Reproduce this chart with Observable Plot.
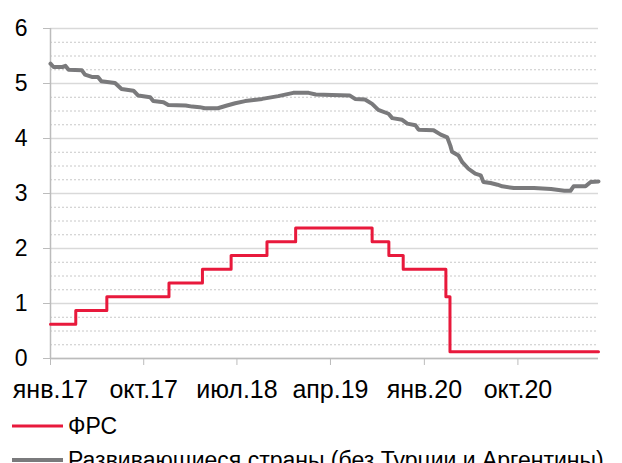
<!DOCTYPE html>
<html>
<head>
<meta charset="utf-8">
<script src="https://cdn.jsdelivr.net/npm/d3@7"></script>
<script src="https://cdn.jsdelivr.net/npm/@observablehq/plot@0.6"></script>
<style>
  body { margin: 0; background: #fff; font-family: "Liberation Sans", Arial, sans-serif; }
  #chart svg { display: block; }
  #legend { margin-top: 3px; font-size: 23px; color: #000; }
  .row { height: 34px; display: flex; align-items: center; white-space: nowrap; }
  .row svg { margin-left: 12px; margin-right: 5px; }
</style>
</head>
<body>
<div id="chart"></div>
<div id="legend"></div>
<script>
const fedDates = ["2017-01-01","2017-03-16","2017-06-15","2017-12-14","2018-03-22","2018-06-14","2018-09-27","2018-12-20","2019-08-01","2019-09-19","2019-10-31","2020-03-04","2020-03-16","2021-05-25"];
const fedValues = [0.625,0.875,1.125,1.375,1.625,1.875,2.125,2.375,2.125,1.875,1.625,1.125,0.125,0.125];

const emDates = ["2017-01-01","2017-01-10","2017-02-05","2017-02-14","2017-02-23","2017-04-03","2017-04-12","2017-05-02","2017-05-20","2017-05-30","2017-07-09","2017-07-28","2017-09-01","2017-09-15","2017-10-20","2017-10-29","2017-11-28","2017-12-12","2018-02-01","2018-02-20","2018-03-14","2018-03-29","2018-05-06","2018-06-02","2018-06-26","2018-07-25","2018-09-13","2018-10-30","2018-12-13","2019-01-27","2019-02-17","2019-04-05","2019-05-28","2019-06-12","2019-07-11","2019-08-01","2019-08-19","2019-09-18","2019-09-29","2019-10-28","2019-11-12","2019-12-06","2019-12-15","2020-01-28","2020-02-18","2020-03-08","2020-03-17","2020-03-22","2020-04-10","2020-04-21","2020-05-09","2020-05-29","2020-06-14","2020-06-22","2020-07-13","2020-08-02","2020-08-16","2020-09-19","2020-11-17","2021-01-06","2021-02-14","2021-03-04","2021-03-13","2021-04-17","2021-05-02","2021-05-25"];
const emValues = [5.36,5.30,5.30,5.32,5.25,5.24,5.16,5.12,5.12,5.04,5.01,4.90,4.87,4.78,4.75,4.68,4.66,4.61,4.60,4.58,4.57,4.55,4.55,4.60,4.64,4.68,4.72,4.77,4.83,4.83,4.80,4.79,4.78,4.72,4.71,4.63,4.52,4.45,4.37,4.34,4.27,4.24,4.16,4.15,4.07,4.02,3.87,3.76,3.69,3.57,3.45,3.36,3.33,3.21,3.19,3.16,3.13,3.10,3.10,3.08,3.05,3.05,3.13,3.13,3.21,3.22];

const yTicks = [0,1,2,3,4,5,6];
const yTickLabels = ["0","1","2","3","4","5","6"];
const yMinorTicks = [0.25,0.5,0.75,1.25,1.5,1.75,2.25,2.5,2.75,3.25,3.5,3.75,4.25,4.5,4.75,5.25,5.5,5.75];
const xTickDates = ["2017-01-01","2017-10-01","2018-07-01","2019-04-01","2020-01-01","2020-10-01"];
const xTickLabels = ["янв.17","окт.17","июл.18","апр.19","янв.20","окт.20"];
const xDomain = ["2017-01-01","2021-05-25"];

const seriesNames = ["ФРС","Развивающиеся страны (без Турции и Аргентины)"];
const seriesColors = ["#e8193c","#7a7a7c"];
const seriesWidths = [3, 4];

const parse = d3.utcParse("%Y-%m-%d");
const fed = fedDates.map((d,i) => ({date: parse(d), value: fedValues[i]}));
const em = emDates.map((d,i) => ({date: parse(d), value: emValues[i]}));
const xt = xTickDates.map(parse);

const chart = Plot.plot({
  width: 622,
  height: 406,
  marginLeft: 50,
  marginRight: 24,
  marginTop: 28,
  marginBottom: 48,
  style: {fontFamily: "'Liberation Sans', Arial, sans-serif", fontSize: "23px", color: "#000", background: "#fff", overflow: "visible"},
  x: {type: "utc", domain: xDomain.map(parse)},
  y: {domain: [0, 6]},
  marks: [
    Plot.ruleY(yMinorTicks, {stroke: "#c8c8c8", strokeDasharray: "2,2", strokeWidth: 1}),
    Plot.ruleY(yTicks, {stroke: "#d9d9d9", strokeWidth: 1.5}),
    Plot.ruleX([parse(xDomain[0])], {stroke: "#bcbcbc", strokeWidth: 1.5}),
    Plot.ruleY([0], {stroke: "#bcbcbc", strokeWidth: 1.5}),
    Plot.axisY({ticks: yTicks, tickFormat: (d, i) => yTickLabels[i], tickSize: 7, tickPadding: 16, stroke: "#bcbcbc", fill: "#000", fontSize: 23, label: null}),
    Plot.axisX({ticks: xt, tickFormat: (d, i) => xTickLabels[i], tickSize: 7, tickPadding: 15, stroke: "#bcbcbc", fill: "#000", fontSize: 25, label: null}),
    Plot.line(fed, {x: "date", y: "value", curve: "step-after", stroke: seriesColors[0], strokeWidth: seriesWidths[0]}),
    Plot.line(em, {x: "date", y: "value", stroke: seriesColors[1], strokeWidth: seriesWidths[1]})
  ]
});
document.getElementById("chart").appendChild(chart);

const legend = d3.select("#legend");
seriesNames.forEach((name, i) => {
  const row = legend.append("div").attr("class", "row");
  const s = row.append("svg").attr("width", 51).attr("height", 10);
  s.append("line").attr("x1", 0).attr("x2", 51).attr("y1", 5).attr("y2", 5)
    .attr("stroke", seriesColors[i]).attr("stroke-width", seriesWidths[i]);
  row.append("span").text(name);
});
</script>
</body>
</html>
